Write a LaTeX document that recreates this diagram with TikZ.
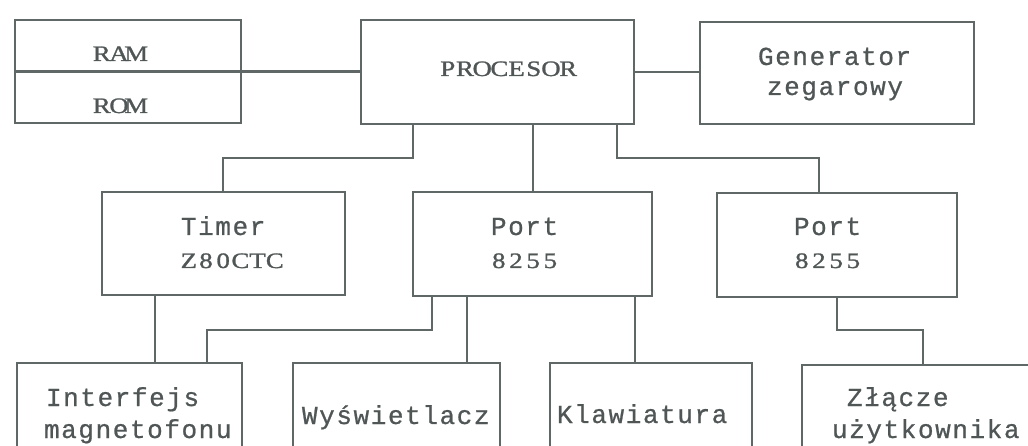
\documentclass[tikz,border=0pt]{standalone}
\usepackage{fontspec}
\setmainfont{Liberation Serif}
\newfontfamily\serf[FakeStretch=1.22,FakeBold=1.2]{Liberation Serif}
\newfontfamily\monof[FakeBold=0.8]{Liberation Mono}
\newcommand\pitchw{17.2pt}
\def\pitch#1{\pitchloop#1\relax}
\def\pitchloop#1{\ifx#1\relax\else\makebox[\pitchw]{#1}\expandafter\pitchloop\fi}
\definecolor{ink}{HTML}{505656}
\definecolor{wire}{HTML}{606767}
\begin{document}
\begin{tikzpicture}[x=1pt,y=-1pt,
  blk/.style={draw=wire,line width=2.2pt,anchor=north west,inner sep=0pt,outer sep=0pt},
  con/.style={draw=wire,line width=2.2pt},
  sertxt/.style={anchor=base west,inner sep=0pt,text=ink,font=\serf\fontsize{22}{24}\selectfont},
  montxt/.style={anchor=base west,inner sep=0pt,text=ink,font=\monof\fontsize{26}{28}\selectfont}]
\useasboundingbox (0,0) rectangle (1028,446);
\clip (0,0) rectangle (1028,446);
% boxes
\node[blk,minimum width=226pt,minimum height=103pt] (mem) at (15,20) {};
\node[blk,minimum width=273pt,minimum height=104pt] (proc) at (361,20) {};
\node[blk,minimum width=274pt,minimum height=102pt] (gen) at (700,22) {};
\node[blk,minimum width=243pt,minimum height=103pt] (tim) at (102,192) {};
\node[blk,minimum width=239pt,minimum height=104pt] (pa) at (413,192) {};
\node[blk,minimum width=240pt,minimum height=104pt] (pb) at (717,193) {};
\node[blk,minimum width=225pt,minimum height=110pt] (intf) at (17,363) {};
\node[blk,minimum width=207pt,minimum height=110pt] (wys) at (293,363) {};
\node[blk,minimum width=202pt,minimum height=110pt] (kla) at (550,363) {};
\node[blk,minimum width=240pt,minimum height=110pt] (zla) at (802,365) {};
\draw[con] (mem.west) -- (mem.east);
% texts
\node[sertxt] (tram) at (93,61) {\pitch{RAM}};
\node[sertxt] (trom) at (93,113) {\pitch{ROM}};
\node[sertxt] (tproc) at (439,76) {\pitch{PROCESOR}};
\node[montxt] (tgen1) at (757,65) {\pitch{Generator}};
\node[montxt] (tgen2) at (766,95) {\pitch{zegarowy}};
\node[montxt] (ttim1) at (180,235) {\pitch{Timer}};
\node[sertxt] (ttim2) at (180,268) {\pitch{Z80CTC}};
\node[montxt] (tpa1) at (490,235) {\pitch{Port}};
\node[sertxt] (tpa2) at (490,268) {\pitch{8255}};
\node[montxt] (tpb1) at (793,235) {\pitch{Port}};
\node[sertxt] (tpb2) at (793,268) {\pitch{8255}};
\node[montxt] (tint1) at (45,406) {\pitch{Interfejs}};
\node[montxt] (tint2) at (43,438) {\pitch{magnetofonu}};
\node[montxt] (twys) at (301,424) {\pitch{Wyświetlacz}};
\node[montxt] (tkla) at (556,423) {\pitch{Klawiatura}};
\node[montxt] (tzla1) at (846,406) {\pitch{Złącze}};
\node[montxt] (tzla2) at (831,438) {\pitch{użytkownika}};
% connectors
\draw[con] (mem.east) -- (mem.east -| proc.west);
\draw[con] (proc.east) -- (proc.east -| gen.west);
\draw[con] ([xshift=52pt]proc.south west) -- ++(0,34) -| ([xshift=121pt]tim.north west);
\draw[con] ([xshift=172pt]proc.south west) -- ([xshift=120pt]pa.north west);
\draw[con] ([xshift=256pt]proc.south west) -- ++(0,34) -| ([xshift=102pt]pb.north west);
\draw[con] ([xshift=53pt]tim.south west) -- ([xshift=138pt]intf.north west);
\draw[con] ([xshift=19pt]pa.south west) -- ++(0,34) -| ([xshift=190pt]intf.north west);
\draw[con] ([xshift=54pt]pa.south west) -- ([xshift=174pt]wys.north west);
\draw[con] ([xshift=222pt]pa.south west) -- ([xshift=85pt]kla.north west);
\draw[con] ([xshift=120pt]pb.south west) -- ++(0,33) -| ([xshift=121pt]zla.north west);
\end{tikzpicture}
\end{document}
